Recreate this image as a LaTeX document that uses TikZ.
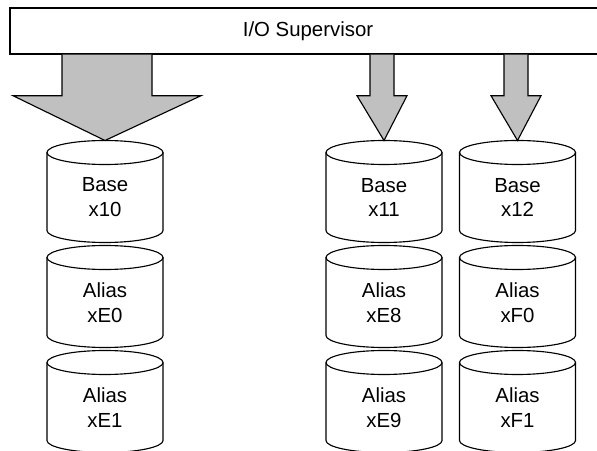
\documentclass[tikz,border=0pt]{standalone}
\usepackage{fontspec}
\setmainfont{Liberation Sans}
\usetikzlibrary{positioning, calc}
\definecolor{feed_gray}{RGB}{192, 192, 192}
\tikzset{
  supervisor/.style={draw, line width=1pt, fill=white, minimum width=14.9cm, minimum height=1.15cm, inner sep=0pt},
  disklabel/.style={align=center, inner sep=0pt},
  disk/.style={line width=0.8pt},
  feed/.style={draw, line width=0.8pt, fill=feed_gray, line join=miter}
}

\begin{document}
\begin{tikzpicture}[x=0.025cm, y=0.025cm, font=\fontsize{14.5}{17.7}\selectfont]
  \useasboundingbox (0,0) rectangle (597,-451);
  \clip (0,0) rectangle (597,-451);

  % supervisor bar, runs off the right edge
  \node[supervisor] (sup) at (308,-31) {I/O Supervisor};

  % disk labels
  \node[disklabel] (base10) at (105,-197.5) {Base\\x10};
  \node[disklabel] (alias0) at (105,-302.5) {Alias\\xE0};
  \node[disklabel] (alias1) at (105,-407.5) {Alias\\xE1};
  \node[disklabel] (base11) at (384,-197.5) {Base\\x11};
  \node[disklabel] (alias8) at (384,-302.5) {Alias\\xE8};
  \node[disklabel] (alias9) at (384,-407.5) {Alias\\xE9};
  \node[disklabel] (base12) at (517.5,-197.5) {Base\\x12};
  \node[disklabel] (aliasF0) at (517.5,-302.5) {Alias\\xF0};
  \node[disklabel] (aliasF1) at (517.5,-407.5) {Alias\\xF1};

  % cylinders round the labels
  \foreach \n in {base10, alias0, alias1, base11, alias8, alias9, base12, aliasF0, aliasF1} {
    \draw[disk] ($(\n)+(-58,45)$) -- ($(\n)+(-58,-33)$)
      arc[start angle=180, end angle=360, x radius=58, y radius=12] -- ($(\n)+(58,45)$);
    \draw[disk] ($(\n)+(0,45)$) ellipse[x radius=58, y radius=12];
  }

  % block arrows from the supervisor to the base disks
  \foreach \n/\s/\h/\dx in {base10/45/94/2, base11/12/25/-2, base12/12/25/-1.5} {
    \filldraw[feed] ($(sup.south -| \n)+(\dx-\s,0)$) -- ($(sup.south -| \n)+(\dx-\s,-41)$)
      -- ($(sup.south -| \n)+(\dx-\h,-41)$) -- ($(\n)+(0,57)$)
      -- ($(sup.south -| \n)+(\dx+\h,-41)$) -- ($(sup.south -| \n)+(\dx+\s,-41)$)
      -- ($(sup.south -| \n)+(\dx+\s,0)$);
  }
\end{tikzpicture}
\end{document}
